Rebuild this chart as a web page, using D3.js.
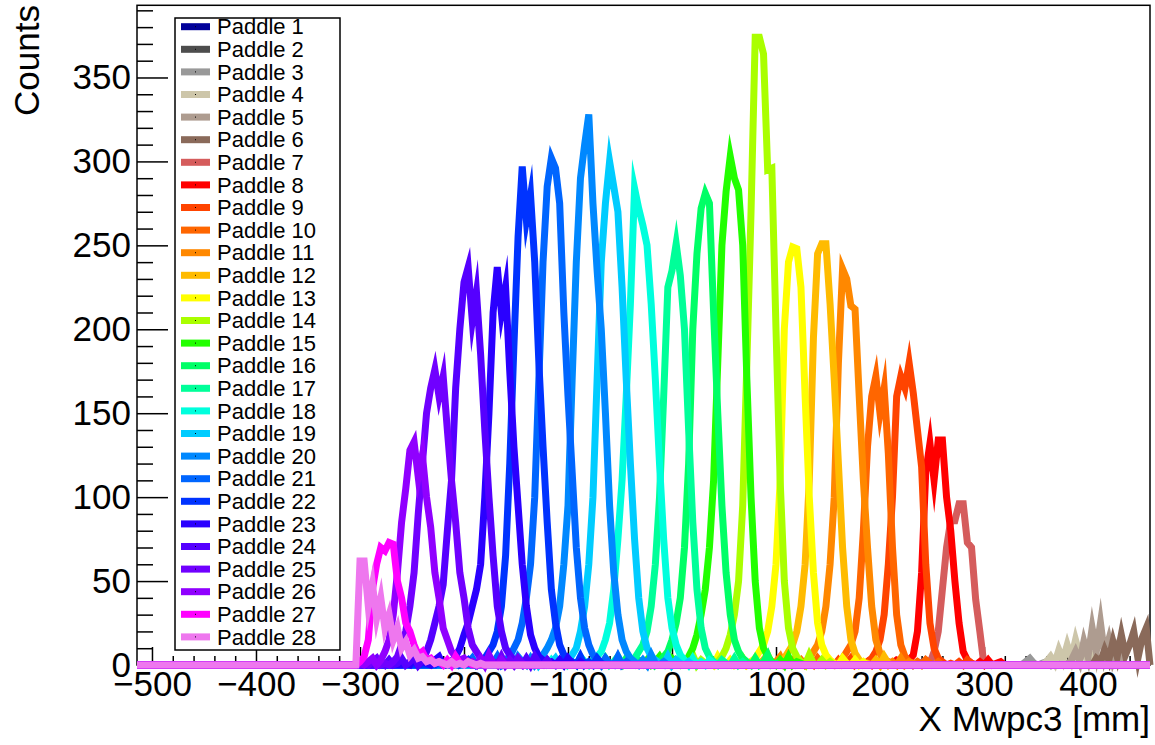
<!DOCTYPE html>
<html>
<head>
<meta charset="utf-8">
<script src="https://cdn.jsdelivr.net/npm/d3@7"></script>
<style>
  body { margin: 0; background: #fff; }
  svg { font-family: "Liberation Sans", Arial, Helvetica, sans-serif; }
</style>
</head>
<body>
<svg id="chart" width="1155" height="745"></svg>
<script>
// bin width of the histograms [mm]
var binWidth = 4;

var paddleNames = d3.range(1, 29).map(function(i) { return "Paddle " + i; });
var paddleColors = [
  "#000099", "#4d4d4d", "#999999", "#cdc6aa", "#ae9c90", "#8a6a5a", "#d55c5c",
  "#ff0000", "#ff4400", "#ff6600", "#ff8800", "#ffbb00", "#ffff00", "#aaff00",
  "#22ff00", "#00ff66", "#00ff99", "#00ffdd", "#00ccff", "#0088ff", "#0066ff",
  "#0033ff", "#2a00ff", "#5500ff", "#7000ff", "#9000ff", "#ff00ff", "#ee77ee"
];

// centre of first bin of each paddle's counts [mm]
var paddleStart = [
  0, 0, 336, 356, 380, 404, 204, 180, 144, 112, 84, 60, 32, 0,
  -32, -56, -84, -120, -144, -172, -204, -228, -256, -284, -312, -324, -304, -304
];

// counts per bin (zero outside)
var paddle1 = [];
var paddle2 = [];
var paddle3 = [0, 2, 4, 1, 0, 1, 2, 0, 3, 5, 2, 0];
var paddle4 = [0, 2, 5, 1, 9, 3, 12, 4, 15, 6, 10, 2, 5, 0];
var paddle5 = [0, 3, 8, 2, 14, 5, 22, 8, 25, 6, 15, 3, 10, 2, 0];
var paddle6 = [0, 4, 2, 9, 3, 14, 5, 18, 6, 12, 20, 4, 16, 22];
var paddle7 = [0, 1, 0, 2, 0, 1, 3, 0, 2, 1, 3, 1, 8, 20, 45, 70, 86, 86, 96, 96, 73, 70, 39, 20, 0];
var paddle8 = [1, 0, 2, 0, 3, 1, 0, 2, 1, 3, 2, 1, 3, 6, 20, 55, 115, 132, 110, 134, 134, 100, 80, 50, 25, 8, 3, 1, 0, 2, 0, 3, 0, 1, 2, 0];
var paddle9 = [0, 2, 1, 0, 3, 0, 1, 4, 0, 2, 1, 2, 4, 8, 15, 30, 60, 100, 160, 172, 165, 180, 162, 140, 118, 60, 25, 10, 4, 2, 0, 1, 0, 2, 0, 3, 1, 0];
var paddle10 = [2, 0, 1, 3, 0, 2, 0, 4, 1, 0, 2, 0, 2, 4, 8, 12, 20, 40, 80, 130, 160, 172, 150, 165, 126, 70, 30, 12, 5, 2, 0, 2, 0, 3, 1, 0, 2, 0];
var paddle11 = [0, 3, 1, 0, 2, 5, 0, 1, 3, 0, 1, 2, 4, 8, 12, 20, 35, 60, 100, 180, 236, 230, 214, 212, 160, 110, 70, 35, 15, 7, 3, 0, 2, 0, 4, 0, 2, 1, 0];
var paddle12 = [1, 0, 4, 0, 2, 1, 0, 3, 6, 1, 0, 2, 4, 8, 12, 20, 35, 60, 110, 195, 245, 251, 251, 215, 170, 120, 70, 35, 15, 7, 3, 0, 1, 0, 3, 0, 5, 1, 0];
var paddle13 = [0, 2, 0, 5, 1, 0, 3, 0, 2, 4, 0, 2, 4, 8, 12, 20, 35, 60, 110, 200, 240, 249, 248, 225, 160, 100, 55, 25, 12, 6, 3, 1, 0, 4, 1, 0, 3, 0, 2, 0];
var paddle14 = [0, 3, 1, 0, 2, 6, 0, 3, 1, 2, 0, 2, 5, 10, 18, 30, 50, 95, 180, 270, 374, 374, 364, 295, 296, 200, 110, 50, 22, 10, 5, 2, 0, 6, 1, 0, 3, 0, 2, 0];
var paddle15 = [1, 0, 3, 0, 2, 5, 1, 0, 4, 2, 0, 2, 5, 10, 18, 30, 45, 70, 110, 180, 250, 282, 303, 290, 283, 250, 170, 100, 50, 22, 10, 5, 2, 0, 3, 0, 5, 0, 2, 1, 0];
var paddle16 = [0, 2, 0, 4, 1, 0, 3, 2, 0, 5, 0, 2, 5, 8, 15, 25, 40, 70, 120, 200, 245, 272, 281, 275, 210, 150, 95, 55, 30, 15, 8, 4, 2, 0, 4, 0, 2, 6, 0, 1, 0];
var paddle17 = [2, 0, 3, 1, 0, 4, 0, 2, 5, 1, 0, 2, 4, 8, 12, 20, 35, 60, 100, 160, 225, 235, 251, 232, 200, 140, 85, 45, 22, 10, 5, 2, 0, 3, 1, 0, 4, 0, 2, 0];
var paddle18 = [0, 3, 0, 1, 4, 0, 2, 0, 5, 2, 0, 2, 5, 8, 15, 25, 45, 75, 110, 160, 215, 284, 272, 262, 250, 215, 170, 120, 75, 40, 22, 12, 6, 3, 0, 4, 0, 2, 0, 3, 1, 0];
var paddle19 = [1, 0, 2, 5, 0, 3, 0, 1, 4, 0, 0, 3, 6, 10, 20, 35, 60, 100, 170, 240, 275, 300, 285, 270, 225, 170, 120, 75, 40, 20, 10, 5, 3, 1, 0, 5, 0, 3, 1, 0, 2, 0];
var paddle20 = [0, 2, 0, 3, 1, 0, 5, 2, 0, 4, 0, 3, 6, 10, 15, 22, 35, 60, 95, 170, 240, 290, 310, 328, 275, 235, 200, 150, 95, 55, 30, 15, 8, 4, 2, 0, 3, 0, 6, 1, 0, 2, 0];
var paddle21 = [2, 0, 1, 4, 0, 2, 0, 3, 1, 5, 0, 2, 5, 10, 15, 25, 40, 60, 100, 170, 240, 285, 302, 296, 275, 210, 160, 115, 70, 40, 22, 12, 6, 3, 0, 4, 1, 0, 5, 0, 2, 0];
var paddle22 = [0, 3, 1, 0, 2, 5, 0, 1, 3, 0, 0, 2, 4, 8, 12, 20, 35, 65, 120, 190, 255, 297, 265, 280, 240, 180, 130, 85, 45, 25, 12, 6, 3, 2, 0, 5, 0, 2, 0, 4, 1, 0];
var paddle23 = [1, 0, 4, 0, 2, 1, 0, 3, 5, 0, 0, 2, 5, 10, 18, 25, 35, 45, 60, 100, 150, 210, 237, 210, 225, 175, 130, 95, 60, 35, 18, 10, 5, 3, 1, 2, 0, 3, 0, 4, 1, 0, 2, 0];
var paddle24 = [0, 2, 0, 3, 0, 1, 4, 0, 2, 5, 0, 3, 8, 15, 25, 35, 48, 80, 110, 165, 200, 228, 237, 205, 222, 185, 140, 100, 65, 35, 20, 10, 6, 3, 2, 0, 4, 0, 5, 1, 0, 3, 0];
var paddle25 = [0, 0, 0, 0, 1, 0, 2, 4, 0, 1, 0, 2, 5, 12, 20, 35, 55, 90, 120, 150, 165, 176, 160, 172, 140, 110, 85, 55, 40, 22, 12, 8, 4, 3, 1, 2, 0, 5, 0, 3, 0, 4, 1, 0];
var paddle26 = [0, 0, 0, 0, 0, 0, 1, 0, 2, 4, 0, 3, 8, 15, 30, 55, 85, 105, 128, 133, 112, 125, 100, 82, 55, 40, 22, 15, 8, 5, 3, 4, 1, 2, 0, 4, 0, 6, 1, 0, 3, 0];
var paddle27 = [0, 2, 5, 15, 45, 60, 70, 68, 73, 72, 50, 40, 25, 20, 12, 6, 8, 3, 4, 1, 2, 0, 3, 0, 5, 1, 0, 2, 0];
var paddle28 = [0, 62, 62, 35, 48, 28, 40, 22, 30, 15, 22, 10, 14, 6, 9, 4, 5, 2, 3, 1, 2, 1, 0, 2, 0, 1, 0, 2, 1, 0, 1, 0];

var paddleCounts = [
  paddle1, paddle2, paddle3, paddle4, paddle5, paddle6, paddle7, paddle8, paddle9, paddle10,
  paddle11, paddle12, paddle13, paddle14, paddle15, paddle16, paddle17, paddle18, paddle19, paddle20,
  paddle21, paddle22, paddle23, paddle24, paddle25, paddle26, paddle27, paddle28
];

var xTicks = [-500, -400, -300, -200, -100, 0, 100, 200, 300, 400];
var yTicks = [0, 50, 100, 150, 200, 250, 300, 350];

var svg = d3.select("#chart");
var padLeft = 137, padRight = 1150, padTop = 5.3, padBottom = 665;
var xMin = -514.4, xMax = 459.6;

var x = d3.scaleLinear().domain([xMin, xMax]).range([padLeft, padRight]);
var y = d3.scaleLinear().domain([0, 393]).range([padBottom, padTop]);

// frame
svg.append("rect")
  .attr("x", padLeft).attr("y", padTop)
  .attr("width", padRight - padLeft).attr("height", padBottom - padTop)
  .attr("fill", "none").attr("stroke", "#000").attr("stroke-width", 1.5);

// axes, ticks pointing inwards like ROOT
var yMinor = d3.range(0, 391, 10).filter(function(v) { return v % 50 != 0; });
svg.append("g").attr("transform", "translate(" + padLeft + ",0)")
  .call(d3.axisLeft(y).tickValues(yMinor).tickSize(-16).tickFormat(""))
  .call(function(g) { g.select(".domain").remove(); });
svg.append("g").attr("class", "yaxis").attr("transform", "translate(" + padLeft + ",0)")
  .call(d3.axisLeft(y).tickValues(yTicks).tickSize(-31).tickPadding(6))
  .call(function(g) { g.select(".domain").remove(); });

var xMinor = d3.range(-500, 460, 20).filter(function(v) { return v % 100 != 0; });
svg.append("g").attr("transform", "translate(0," + padBottom + ")")
  .call(d3.axisBottom(x).tickValues(xMinor).tickSize(-9).tickFormat(""))
  .call(function(g) { g.select(".domain").remove(); });
svg.append("g").attr("class", "xaxis").attr("transform", "translate(0," + padBottom + ")")
  .call(d3.axisBottom(x).tickValues(xTicks).tickSize(-18).tickPadding(6))
  .call(function(g) { g.select(".domain").remove(); });

svg.selectAll(".tick line").attr("stroke", "#000").attr("stroke-width", 1.5);
svg.selectAll(".yaxis text, .xaxis text")
  .attr("font-size", 35).attr("font-family", "Liberation Sans, Arial, sans-serif").attr("fill", "#000");

// axis titles
svg.append("text")
  .attr("transform", "translate(39,5) rotate(-90)")
  .attr("text-anchor", "end")
  .attr("font-size", 35)
  .text("Counts");
svg.append("text")
  .attr("x", padRight).attr("y", 731)
  .attr("text-anchor", "end")
  .attr("font-size", 35)
  .text("X Mwpc3 [mm]");

// build full histogram (zeros outside the read-off range)
function histPoints(i) {
  var pts = [[xMin, 0]];
  var c = paddleCounts[i], s = paddleStart[i];
  for (var b = -512; b <= 456; b += binWidth) {
    var k = (b - s) / binWidth;
    var v = (k >= 0 && k < c.length) ? c[k] : 0;
    pts.push([b, v]);
  }
  pts.push([xMax, 0]);
  return pts;
}

var line = d3.line()
  .x(function(d) { return x(d[0]); })
  .y(function(d) { return y(d[1]); });

svg.append("g").selectAll("path")
  .data(d3.range(28))
  .enter().append("path")
    .attr("d", function(i) { return line(histPoints(i)); })
    .attr("fill", "none")
    .attr("stroke", function(i) { return paddleColors[i]; })
    .attr("stroke-width", 7)
    .attr("stroke-linejoin", "miter")
    .attr("stroke-miterlimit", 10);

// legend
var legend = svg.append("g");
legend.append("rect")
  .attr("x", 175).attr("y", 18).attr("width", 165).attr("height", 632)
  .attr("fill", "#fff").attr("stroke", "#000").attr("stroke-width", 1.5);

var entry = legend.selectAll(".entry")
  .data(paddleNames)
  .enter().append("g")
    .attr("class", "entry")
    .attr("transform", function(d, i) { return "translate(0," + (26.7 + i * 22.6) + ")"; });

entry.append("rect")
  .attr("x", 181).attr("y", -3.5).attr("width", 29).attr("height", 7)
  .attr("fill", function(d, i) { return paddleColors[i]; });
entry.append("rect")
  .attr("x", 195).attr("y", -0.5).attr("width", 1).attr("height", 1)
  .attr("fill", "#000");
entry.append("text")
  .attr("x", 217).attr("y", 0)
  .attr("dy", "0.35em")
  .attr("font-size", 22)
  .text(function(d) { return d; });
</script>
</body>
</html>
